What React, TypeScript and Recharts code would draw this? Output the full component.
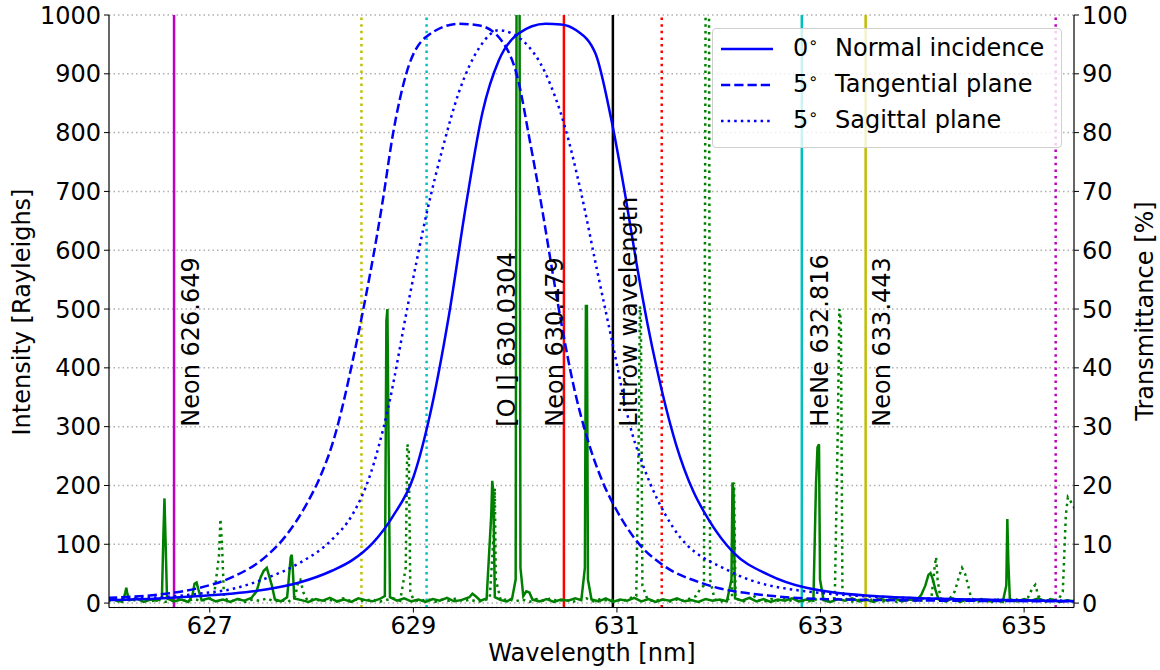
import React from 'react'
import {
  ComposedChart,
  Line,
  XAxis,
  YAxis,
  CartesianGrid,
  ReferenceLine,
  ReferenceDot,
} from 'recharts'

// filter transmittance [%] vs wavelength [nm]
const normalIncidence = [
  [626.0, 0.5], [626.5, 0.8], [626.9, 1.2], [627.2, 1.6], [627.55, 2.3], [627.88, 3.5],
  [628.2, 5.5], [628.4, 7.3], [628.6, 10.2], [628.8, 14.8], [629.0, 21.4], [629.15, 31],
  [629.35, 49], [629.52, 68], [629.68, 83.5], [629.84, 92.3], [630.03, 96.8], [630.3, 98.5],
  [630.45, 98.4], [630.6, 97.4], [630.79, 93.4], [630.94, 82.6], [631.09, 68.5], [631.19, 58],
  [631.3, 47.5], [631.39, 40], [631.58, 27], [631.75, 19], [631.89, 14.5], [632.15, 8.5],
  [632.48, 4.9], [632.86, 2.6], [633.6, 1.1], [634.5, 0.6], [635.5, 0.3],
]

const tangentialPlane = [
  [626.0, 0.9], [626.57, 1.6], [626.9, 2.6], [627.22, 4.4], [627.55, 7.9], [627.75, 11.5],
  [627.94, 16.5], [628.08, 21.3], [628.2, 26.8], [628.45, 45], [628.7, 68.5], [628.8, 79.8],
  [628.93, 90], [629.12, 96.2], [629.45, 98.5], [629.65, 98.2], [629.86, 95.8], [630.03, 88.9],
  [630.14, 79], [630.26, 67.5], [630.36, 57], [630.46, 47], [630.58, 36.5], [630.7, 28.5],
  [630.85, 21], [630.99, 16], [631.21, 10.2], [631.44, 6.6], [631.85, 3.3], [632.48, 1.3],
  [633.23, 0.6], [635.5, 0.3],
]

const sagittalPlane = [
  [626.0, 0.6], [626.9, 1.6], [627.22, 2.4], [627.55, 4.2], [627.88, 6.8], [628.2, 10.8],
  [628.4, 15], [628.57, 21.5], [628.75, 33], [628.95, 51], [629.14, 67], [629.29, 77.5],
  [629.45, 87], [629.65, 94.5], [629.84, 97.4], [630.07, 95.7], [630.3, 90], [630.49, 80.9],
  [630.65, 69.6], [630.8, 57], [630.95, 44.7], [631.15, 28.8], [631.25, 23.7], [631.55, 12.9],
  [632.11, 5.4], [632.86, 2.0], [634.0, 0.8], [635.5, 0.4],
]

// measured spectrum [Rayleighs]
const spectrum = [
  [626.0, 4], [626.05, 7], [626.1, 3], [626.15, 5], [626.17, 18], [626.18, 26], [626.19, 16],
  [626.21, 5], [626.28, 8], [626.35, 2], [626.42, 6], [626.48, 4], [626.53, 10], [626.545, 120],
  [626.555, 178], [626.565, 110], [626.58, 8], [626.65, 3], [626.72, 6], [626.79, 2], [626.83, 14],
  [626.85, 33], [626.87, 35], [626.89, 22], [626.92, 5], [626.99, 8], [627.06, 3], [627.13, 6],
  [627.2, 2], [627.27, 7], [627.34, 4], [627.41, 9], [627.46, 20], [627.5, 44], [627.53, 55],
  [627.56, 60], [627.58, 48], [627.61, 30], [627.64, 6], [627.7, 3], [627.76, 10], [627.795, 78],
  [627.805, 82], [627.815, 60], [627.83, 8], [627.9, 5], [627.97, 2], [628.04, 7], [628.11, 4],
  [628.18, 9], [628.25, 3], [628.32, 6], [628.39, 2], [628.46, 8], [628.53, 5], [628.6, 3],
  [628.67, 7], [628.72, 12], [628.735, 480], [628.745, 500], [628.755, 300], [628.77, 10],
  [628.84, 4], [628.91, 8], [628.98, 3], [629.05, 6], [629.12, 2], [629.19, 7], [629.26, 4],
  [629.33, 9], [629.4, 3], [629.47, 5], [629.55, 10], [629.58, 16], [629.61, 12], [629.66, 4],
  [629.72, 8], [629.765, 150], [629.775, 208], [629.785, 190], [629.8, 10], [629.86, 5],
  [629.92, 3], [629.97, 8], [630.005, 40], [630.017, 1400], [630.04, 1400], [630.052, 60],
  [630.08, 12], [630.11, 20], [630.14, 18], [630.17, 6], [630.24, 3], [630.31, 7], [630.38, 2],
  [630.45, 6], [630.52, 4], [630.59, 8], [630.65, 5], [630.685, 60], [630.695, 505], [630.705, 505],
  [630.715, 40], [630.75, 6], [630.82, 3], [630.89, 8], [630.96, 2], [631.03, 6], [631.1, 4],
  [631.17, 9], [631.24, 3], [631.31, 7], [631.38, 2], [631.45, 6], [631.52, 4], [631.59, 8],
  [631.66, 3], [631.73, 5], [631.8, 2], [631.87, 7], [631.94, 4], [632.01, 6], [632.08, 3],
  [632.125, 40], [632.135, 205], [632.145, 190], [632.16, 8], [632.23, 4], [632.3, 9], [632.37, 3],
  [632.44, 7], [632.51, 2], [632.58, 6], [632.65, 4], [632.72, 8], [632.79, 3], [632.86, 6],
  [632.93, 4], [632.955, 200], [632.97, 265], [632.985, 270], [632.995, 40], [633.03, 5],
  [633.1, 2], [633.17, 7], [633.24, 4], [633.31, 8], [633.38, 3], [633.45, 6], [633.52, 2],
  [633.59, 7], [633.66, 4], [633.73, 8], [633.8, 3], [633.87, 6], [633.94, 4], [633.99, 14],
  [634.03, 30], [634.06, 48], [634.08, 51], [634.1, 42], [634.13, 22], [634.16, 6], [634.23, 3],
  [634.3, 8], [634.37, 2], [634.44, 6], [634.51, 4], [634.58, 7], [634.65, 3], [634.72, 5],
  [634.79, 2], [634.825, 30], [634.835, 143], [634.845, 70], [634.86, 6], [634.93, 3], [635.0, 7],
  [635.07, 4], [635.14, 8], [635.21, 3], [635.28, 6], [635.35, 2], [635.42, 5], [635.5, 3],
]

// spectrum mirrored about the Littrow wavelength (ghost orders)
const spectrumMirror = [
  [626.0, 3], [626.07, 6], [626.14, 2], [626.21, 7], [626.28, 4], [626.35, 8], [626.42, 3],
  [626.49, 6], [626.56, 2], [626.63, 5], [626.7, 8], [626.77, 3], [626.84, 7], [626.91, 4],
  [626.98, 6], [627.04, 10], [627.09, 80], [627.105, 143], [627.12, 100], [627.14, 8], [627.21, 3],
  [627.28, 7], [627.35, 2], [627.42, 6], [627.49, 4], [627.56, 8], [627.63, 3], [627.7, 5],
  [627.77, 2], [627.84, 12], [627.87, 38], [627.89, 40], [627.92, 18], [627.96, 4], [628.03, 7],
  [628.1, 3], [628.17, 6], [628.24, 2], [628.31, 8], [628.38, 4], [628.45, 6], [628.52, 3],
  [628.59, 7], [628.66, 2], [628.73, 5], [628.8, 8], [628.87, 4], [628.925, 60], [628.94, 270],
  [628.955, 260], [628.97, 20], [629.0, 6], [629.07, 3], [629.14, 7], [629.21, 2], [629.28, 6],
  [629.35, 4], [629.42, 8], [629.49, 3], [629.56, 6], [629.63, 2], [629.7, 5], [629.75, 8],
  [629.79, 120], [629.8, 195], [629.81, 40], [629.86, 4], [629.93, 7], [630.0, 3], [630.07, 6],
  [630.14, 2], [630.21, 7], [630.28, 4], [630.35, 8], [630.42, 3], [630.49, 6], [630.56, 2],
  [630.63, 5], [630.7, 8], [630.77, 3], [630.84, 7], [630.91, 4], [630.98, 6], [631.05, 3],
  [631.12, 8], [631.19, 12], [631.215, 300], [631.225, 505], [631.235, 490], [631.25, 30],
  [631.3, 6], [631.37, 3], [631.44, 7], [631.51, 2], [631.58, 6], [631.65, 4], [631.72, 8],
  [631.78, 12], [631.82, 25], [631.855, 30], [631.877, 1400], [631.9, 1400], [631.915, 40],
  [631.96, 6], [632.03, 3], [632.1, 7], [632.13, 10], [632.15, 205], [632.165, 8], [632.24, 3],
  [632.31, 9], [632.34, 14], [632.37, 6], [632.44, 2], [632.51, 7], [632.58, 4], [632.65, 8],
  [632.72, 3], [632.79, 6], [632.86, 2], [632.93, 5], [633.0, 8], [633.07, 3], [633.14, 9],
  [633.17, 300], [633.185, 500], [633.2, 480], [633.215, 20], [633.26, 5], [633.33, 2],
  [633.4, 7], [633.47, 4], [633.54, 8], [633.61, 3], [633.68, 6], [633.75, 2], [633.82, 5],
  [633.89, 8], [633.96, 3], [634.03, 6], [634.09, 10], [634.12, 60], [634.135, 78], [634.15, 40],
  [634.18, 6], [634.25, 3], [634.32, 20], [634.36, 45], [634.39, 60], [634.42, 50], [634.45, 30],
  [634.48, 8], [634.55, 3], [634.62, 6], [634.69, 2], [634.76, 7], [634.83, 4], [634.9, 8],
  [634.97, 3], [635.04, 10], [635.08, 25], [635.11, 31], [635.14, 12], [635.19, 4], [635.26, 7],
  [635.33, 3], [635.38, 20], [635.41, 150], [635.43, 180], [635.45, 175], [635.5, 160],
]

// calibration lines (solid) and their mirror images (dotted)
const calibrationWavelengths = [626.649, 630.479, 630.96, 632.816, 633.443]
const calibrationColors = ['#bf00bf', '#ff0000', '#000000', '#00bfbf', '#bfbf00']
const mirrorWavelengths = [628.49, 629.13, 631.44, 635.31]
const mirrorColors = ['#bfbf00', '#00bfbf', '#ff0000', '#bf00bf']

const lineLabels = ['Neon 626.649', '[O I] 630.0304', 'Neon 630.479', 'Littrow wavelength', 'HeNe 632.816', 'Neon 633.443']
const labelWavelengths = [626.649, 630.0304, 630.479, 630.96, 632.816, 633.443]
const labelIntensity = 300
const labelShift = [25, -3, -1, 24, 26, 24]

const legendAngles = ['0', '5', '5']
const legendNames = ['Normal incidence', 'Tangential plane', 'Sagittal plane']

const wavelengthTicks = [627, 629, 631, 633, 635]
const wavelengthMinorTicks = [626.5, 627, 627.5, 628, 628.5, 629, 629.5, 630, 630.5, 631, 631.5, 632, 632.5, 633, 633.5, 634, 634.5, 635]
const intensityTicks = [0, 100, 200, 300, 400, 500, 600, 700, 800, 900, 1000]
const intensityMinorTicks = [
  0, 20, 40, 60, 80, 100, 120, 140, 160, 180, 200, 220, 240, 260, 280, 300, 320, 340, 360, 380,
  400, 420, 440, 460, 480, 500, 520, 540, 560, 580, 600, 620, 640, 660, 680, 700, 720, 740, 760,
  780, 800, 820, 840, 860, 880, 900, 920, 940, 960, 980, 1000,
]
const transmittanceTicks = [0, 10, 20, 30, 40, 50, 60, 70, 80, 90, 100]
const transmittanceMinorTicks = [
  0, 2, 4, 6, 8, 10, 12, 14, 16, 18, 20, 22, 24, 26, 28, 30, 32, 34, 36, 38, 40, 42, 44, 46, 48,
  50, 52, 54, 56, 58, 60, 62, 64, 66, 68, 70, 72, 74, 76, 78, 80, 82, 84, 86, 88, 90, 92, 94, 96,
  98, 100,
]

const toPoints = (rows: number[][]) => rows.map(([x, y]) => ({ x, y }))

const FONT = 'DejaVu Sans'
const BLUE = '#0000ff'
const GREEN = '#008000'
const DOTTED = '2.5 4.1'
const DASHED = '9.25 4'
const blueDash = [undefined, DASHED, DOTTED]
const xDomain: [number, number] = [626.01, 635.49]
const tickStyle = { fontSize: 24, fill: '#000', fontFamily: FONT }
const axisLine = { stroke: '#000', strokeWidth: 1.2 }

const blueSeries = [normalIncidence, tangentialPlane, sagittalPlane]

export default function App() {
  return (
    <div
      style={{
        position: 'absolute',
        left: 0,
        top: 0,
        width: 1160,
        height: 670,
        background: '#fff',
        fontFamily: FONT,
      }}
    >
      <ComposedChart width={1160} height={670} margin={{ top: 15, right: 0, bottom: 0, left: 0 }}>
        <CartesianGrid
          xAxisId="x"
          yAxisId="left"
          vertical={false}
          stroke="#b0b0b0"
          strokeWidth={1.5}
          strokeDasharray="1.5 3"
        />
        <XAxis
          xAxisId="minor"
          type="number"
          dataKey="x"
          domain={xDomain}
          allowDataOverflow
          ticks={wavelengthMinorTicks}
          interval={0}
          tick={false}
          tickSize={2.5}
          tickLine={{ stroke: '#000' }}
          axisLine={false}
          height={0}
        />
        <XAxis
          xAxisId="x"
          type="number"
          dataKey="x"
          domain={xDomain}
          allowDataOverflow
          ticks={wavelengthTicks}
          interval={0}
          tick={tickStyle}
          tickSize={5}
          tickMargin={4}
          tickLine={{ stroke: '#000' }}
          axisLine={axisLine}
          height={62.5}
        />
        <XAxis
          xAxisId="top"
          orientation="top"
          type="number"
          domain={xDomain}
          allowDataOverflow
          tick={false}
          tickLine={false}
          axisLine={axisLine}
          height={0}
        />
        <YAxis
          yAxisId="leftMinor"
          type="number"
          domain={[-7.5, 1000]}
          allowDataOverflow
          ticks={intensityMinorTicks}
          interval={0}
          tick={false}
          tickSize={2.5}
          tickLine={{ stroke: '#000' }}
          axisLine={false}
          width={0}
        />
        <YAxis
          yAxisId="left"
          type="number"
          domain={[-7.5, 1000]}
          allowDataOverflow
          ticks={intensityTicks}
          interval={0}
          tick={tickStyle}
          tickSize={5}
          tickMargin={3}
          tickLine={{ stroke: '#000' }}
          axisLine={axisLine}
          width={109}
        />
        <YAxis
          yAxisId="rightMinor"
          orientation="right"
          type="number"
          domain={[-0.75, 100]}
          allowDataOverflow
          ticks={transmittanceMinorTicks}
          interval={0}
          tick={false}
          tickSize={2.5}
          tickLine={{ stroke: '#000' }}
          axisLine={false}
          width={0}
        />
        <YAxis
          yAxisId="right"
          orientation="right"
          type="number"
          domain={[-0.75, 100]}
          allowDataOverflow
          ticks={transmittanceTicks}
          interval={0}
          tick={tickStyle}
          tickSize={5}
          tickMargin={3}
          tickLine={{ stroke: '#000' }}
          axisLine={axisLine}
          width={86}
        />

        {calibrationWavelengths.map((wl, i) => (
          <ReferenceLine
            key={`cal-${wl}`}
            x={wl}
            xAxisId="x"
            yAxisId="left"
            stroke={calibrationColors[i]}
            strokeWidth={2.5}
          />
        ))}
        {mirrorWavelengths.map((wl, i) => (
          <ReferenceLine
            key={`mir-${wl}`}
            x={wl}
            xAxisId="x"
            yAxisId="left"
            stroke={mirrorColors[i]}
            strokeWidth={2.5}
            strokeDasharray={DOTTED}
          />
        ))}

        <Line
          data={toPoints(spectrum)}
          dataKey="y"
          xAxisId="x"
          yAxisId="left"
          type="linear"
          stroke={GREEN}
          strokeWidth={2.5}
          dot={false}
          activeDot={false}
          isAnimationActive={false}
        />
        <Line
          data={toPoints(spectrumMirror)}
          dataKey="y"
          xAxisId="x"
          yAxisId="left"
          type="linear"
          stroke={GREEN}
          strokeWidth={2.5}
          strokeDasharray={DOTTED}
          dot={false}
          activeDot={false}
          isAnimationActive={false}
        />

        {lineLabels.map((text, i) => (
          <ReferenceDot
            key={text}
            x={labelWavelengths[i]}
            y={labelIntensity}
            xAxisId="x"
            yAxisId="left"
            shape={(p: any) => {
              const bx = p.cx + labelShift[i]
              return (
                <text
                  x={bx}
                  y={p.cy}
                  transform={`rotate(-90 ${bx} ${p.cy})`}
                  fontSize={24}
                  fontFamily={FONT}
                  fill="#000"
                >
                  {text}
                </text>
              )
            }}
          />
        ))}

        {blueSeries.map((rows, i) => (
          <Line
            key={legendNames[i]}
            data={toPoints(rows)}
            dataKey="y"
            xAxisId="x"
            yAxisId="right"
            type="monotone"
            stroke={BLUE}
            strokeWidth={2.5}
            strokeDasharray={blueDash[i]}
            dot={false}
            activeDot={false}
            isAnimationActive={false}
          />
        ))}
      </ComposedChart>

      {/* axis titles */}
      <div
        style={{
          position: 'absolute',
          left: 22,
          top: 312,
          transform: 'translate(-50%, -50%) rotate(-90deg)',
          fontSize: 24,
          whiteSpace: 'nowrap',
          lineHeight: 1,
        }}
      >
        Intensity [Rayleighs]
      </div>
      <div
        style={{
          position: 'absolute',
          left: 1145,
          top: 311,
          transform: 'translate(-50%, -50%) rotate(-90deg)',
          fontSize: 24,
          whiteSpace: 'nowrap',
          lineHeight: 1,
        }}
      >
        Transmittance [%]
      </div>
      <div
        style={{
          position: 'absolute',
          left: 592,
          top: 653,
          transform: 'translate(-50%, -50%)',
          fontSize: 24,
          whiteSpace: 'nowrap',
          lineHeight: 1,
        }}
      >
        Wavelength [nm]
      </div>

      {/* legend */}
      <div
        style={{
          position: 'absolute',
          left: 712,
          top: 28,
          width: 348,
          height: 118,
          border: '1px solid #d0d0d0',
          borderRadius: 4,
          background: 'rgba(255,255,255,0.8)',
        }}
      >
        {legendNames.map((name, i) => (
          <div key={name} style={{ position: 'absolute', left: 0, top: 20 + i * 36, width: 348, height: 0 }}>
            <svg width={52} height={6} style={{ position: 'absolute', left: 8, top: -3 }}>
              <line x1={0} y1={3} x2={52} y2={3} stroke={BLUE} strokeWidth={2.5} strokeDasharray={blueDash[i]} />
            </svg>
            <span style={{ position: 'absolute', left: 80, top: -13, fontSize: 24, lineHeight: 1 }}>{legendAngles[i]}</span>
            <span style={{ position: 'absolute', left: 95, top: -14, fontSize: 16, lineHeight: 1 }}>∘</span>
            <span style={{ position: 'absolute', left: 122, top: -13, fontSize: 24, lineHeight: 1, whiteSpace: 'nowrap' }}>
              {name}
            </span>
          </div>
        ))}
      </div>
    </div>
  )
}
